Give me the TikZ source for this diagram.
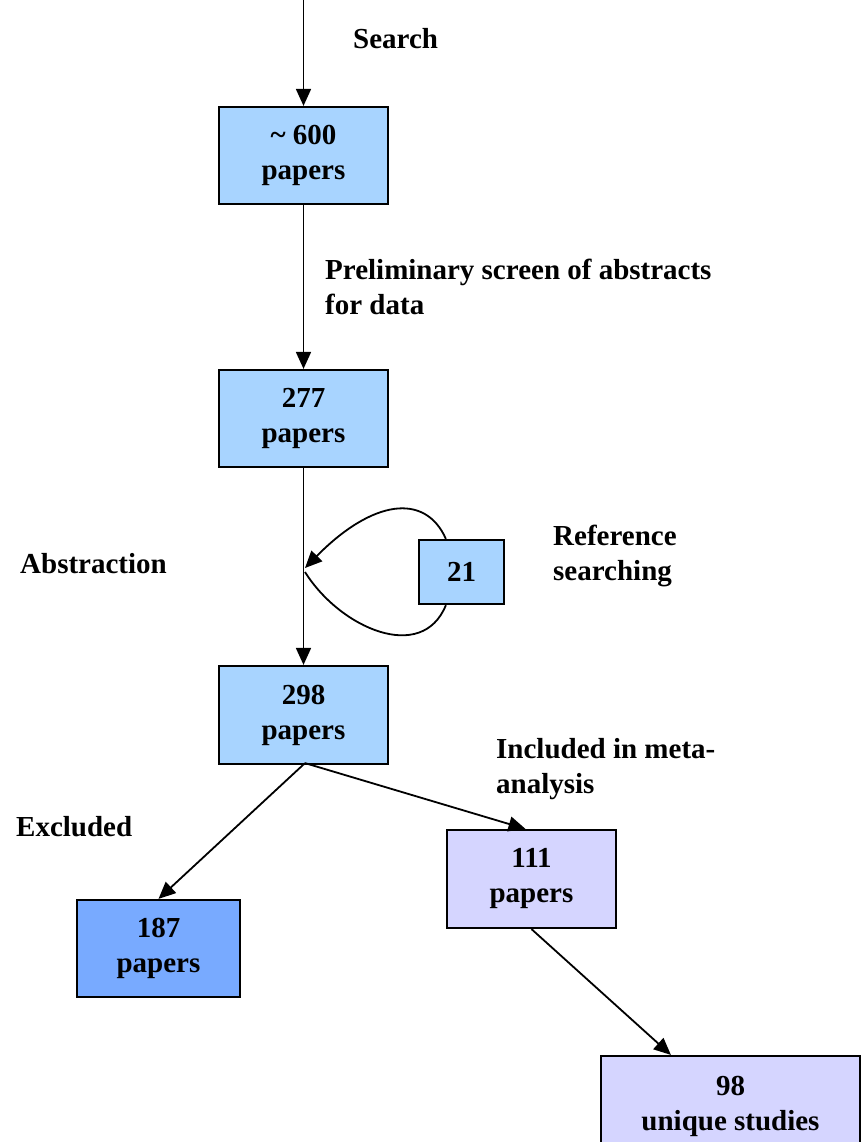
\documentclass[tikz,border=0pt]{standalone}
\usepackage{fontspec}
\setmainfont{Liberation Serif}
\usetikzlibrary{arrows.meta,calc}
\definecolor{lightblue}{HTML}{A8D4FF}
\definecolor{midblue}{HTML}{78AAFF}
\definecolor{lavender}{HTML}{D5D5FF}
\begin{document}
\begin{tikzpicture}[x=1pt,y=-1pt,
  box/.style={draw=black,line width=2.2pt,fill=lightblue,align=center,
    font=\fontsize{29}{35}\selectfont\bfseries,inner sep=0pt},
  lbl/.style={align=left,anchor=west,inner sep=0pt,
    font=\fontsize{29}{35}\selectfont\bfseries},
  conn/.style={line width=1.8pt,-{Triangle[length=17pt,width=15pt]}},
  plain/.style={line width=1.8pt}]
\useasboundingbox (0,0) rectangle (867,1142);
\node[box,minimum width=169pt,minimum height=97pt] (n600) at (303.5,155.5) {\textasciitilde{} 600\\papers};
\node[box,minimum width=169pt,minimum height=97pt] (n277) at (303.5,418.5) {277\\papers};
\node[box,minimum width=85pt,minimum height=64pt] (n21) at (461.5,572) {21};
\node[box,minimum width=169pt,minimum height=98pt] (n298) at (303.5,715) {298\\papers};
\node[box,fill=midblue,minimum width=163pt,minimum height=97pt] (n187) at (158.5,948.5) {187\\papers};
\node[box,fill=lavender,minimum width=169pt,minimum height=98pt] (n111) at (531.5,879) {111\\papers};
\node[box,fill=lavender,minimum width=259pt,minimum height=100pt] (n98) at (730.5,1106) {98\\unique studies};
\coordinate (top) at (303.5,0);
\coordinate (hit) at (305,568);
\coordinate (hitb) at (305,572);
\draw[conn] (top) -- (n600.north);
\draw[conn] (n600.south) -- (n277.north);
\draw[conn] (n277.south) -- (n298.north);
\draw[conn] ($(n21.north west)+(28,0)$) .. controls (425,492) and (372,500) .. (hit);
\draw[plain] (hitb) .. controls (340,628) and (422,664) .. ($(n21.south west)+(28,0)$);
\draw[conn] ($(n298.south)+(1.5,-2)$) -- (n187.north);
\draw[conn] ($(n298.south)+(1.5,-2)$) -- ($(n111.north)+(-6,0)$);
\draw[conn] (n111.south) -- ($(n98.north west)+(71,0)$);
\node[lbl] (search) at (353,39) {Search};
\node[lbl] (prelim) at (325,287) {Preliminary screen of abstracts\\for data};
\node[lbl] (abstr) at (20,564) {Abstraction};
\node[lbl] (refs) at (553,556) {Reference\\searching};
\node[lbl] (incl) at (496,769) {Included in meta-\\analysis};
\node[lbl] (excl) at (16,827) {Excluded};
\end{tikzpicture}
\end{document}
